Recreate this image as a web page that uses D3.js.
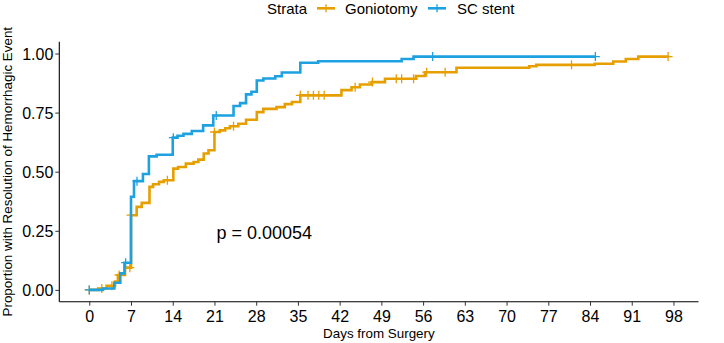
<!DOCTYPE html>
<html>
<head>
<meta charset="utf-8">
<script src="https://cdn.jsdelivr.net/npm/d3@7"></script>
<style>
  html, body { margin: 0; padding: 0; background: #fff; }
  svg { display: block; font-family: "Liberation Sans", Arial, sans-serif; }
</style>
</head>
<body>
<svg id="chart" width="724" height="343"></svg>
<script>
// ---------- data ----------
const strata = ["Goniotomy", "SC stent"];
const colors = ["#E69F00", "#1DA1E0"];

// Goniotomy: event times (days) and cumulative proportion after each step
const goniotomyTime = [0, 1.5, 2.9, 4.3, 4.8, 6.0, 7.0, 7.95, 8.8, 10.1, 10.7, 11.7, 12.5, 14.1, 14.9, 16.2, 17.5, 18.3, 19.2, 20.0, 21.0, 21.9, 22.8, 23.6, 25.0, 26.3, 28.1, 29.2, 31.4, 32.8, 34.0, 35.4, 42.3, 44.0, 45.4, 47.4, 49.6, 54.8, 56.3, 61.6, 73.8, 75.0, 84.8, 87.9, 90.0, 92.1];
const goniotomyValue = [0, 0.006, 0.017, 0.035, 0.063, 0.094, 0.316, 0.351, 0.368, 0.436, 0.447, 0.457, 0.464, 0.513, 0.52, 0.534, 0.541, 0.551, 0.577, 0.591, 0.668, 0.675, 0.684, 0.692, 0.703, 0.72, 0.752, 0.766, 0.773, 0.786, 0.795, 0.823, 0.845, 0.857, 0.869, 0.879, 0.893, 0.905, 0.921, 0.94, 0.946, 0.952, 0.957, 0.966, 0.977, 0.987];
const goniotomyEnd = 97.1;
const goniotomyCensor = [0, 2.1, 3.8, 5.0, 6.8, 7.0, 13.1, 21.0, 24.2, 35.4, 36.7, 37.6, 38.5, 39.4, 44.6, 47.5, 51.5, 52.4, 54.4, 56.6, 59.7, 80.9, 97.1];

// SC stent
const stentTime = [0, 2.3, 4.2, 5.2, 5.9, 7.0, 7.5, 9.0, 10.0, 11.3, 14.0, 14.8, 15.8, 17.2, 19.1, 20.8, 24.2, 25.3, 26.3, 27.2, 28.1, 29.2, 31.2, 32.3, 35.4, 38.4, 52.4, 54.4];
const stentValue = [0, 0.006, 0.03, 0.07, 0.115, 0.394, 0.46, 0.49, 0.565, 0.572, 0.644, 0.652, 0.66, 0.672, 0.696, 0.738, 0.778, 0.79, 0.827, 0.838, 0.886, 0.894, 0.904, 0.92, 0.961, 0.967, 0.977, 0.987];
const stentEnd = 84.9;
const stentCensor = [0, 6.1, 8.0, 14.1, 21.3, 57.6, 84.9];

const xTicks = [0, 7, 14, 21, 28, 35, 42, 49, 56, 63, 70, 77, 84, 91, 98];
const yTicks = [0, 0.25, 0.5, 0.75, 1.0];
const pValueText = "p = 0.00054";
const xTitle = "Days from Surgery";
const yTitle = "Proportion with Resolution of Hemorrhagic Event";
const legendTitle = "Strata";

// ---------- layout ----------
const svg = d3.select("#chart");
const panel = { left: 59.3, right: 698.5, top: 41.7, bottom: 301.7 };

const x = d3.scaleLinear().domain([-5.03, 102.2]).range([panel.left, panel.right]);
const y = d3.scaleLinear().domain([-0.05, 1.05]).range([panel.bottom, panel.top]);

// ---------- axes ----------
const xAxis = d3.axisBottom(x).tickValues(xTicks).tickSize(4).tickPadding(4).tickFormat(d3.format("d"));
const gx = svg.append("g").attr("transform", `translate(0,${panel.bottom})`).call(xAxis);
gx.select(".domain").attr("stroke", "#000").attr("stroke-width", 1.1).attr("d", `M${panel.left},0H${panel.right}`);
gx.selectAll(".tick line").attr("stroke", "#333").attr("stroke-width", 1);
gx.selectAll(".tick text").attr("font-size", 16).attr("fill", "#000").attr("dy", null).attr("y", 20.3);

const yAxis = d3.axisLeft(y).tickValues(yTicks).tickSize(4).tickPadding(2).tickFormat(d3.format(".2f"));
const gy = svg.append("g").attr("transform", `translate(${panel.left},0)`).call(yAxis);
gy.select(".domain").attr("stroke", "#000").attr("stroke-width", 1.1).attr("d", `M0,${panel.top}V${panel.bottom}`);
gy.selectAll(".tick line").attr("stroke", "#333").attr("stroke-width", 1);
gy.selectAll(".tick text").attr("font-size", 16).attr("fill", "#000").attr("dy", "0.36em").attr("x", -6);

// axis titles
svg.append("text").attr("x", (panel.left + panel.right) / 2).attr("y", 337.5)
  .attr("text-anchor", "middle").attr("font-size", 13.4).attr("fill", "#000").text(xTitle);
svg.append("text").attr("transform", `translate(12.3,${(panel.top + panel.bottom) / 2}) rotate(-90)`)
  .attr("text-anchor", "middle").attr("font-size", 13.4).attr("fill", "#000").text(yTitle);

// ---------- curves ----------
const series = [
  { name: strata[0], color: colors[0], t: goniotomyTime, v: goniotomyValue, end: goniotomyEnd, censor: goniotomyCensor },
  { name: strata[1], color: colors[1], t: stentTime, v: stentValue, end: stentEnd, censor: stentCensor }
];

const stepLine = d3.line().x(d => x(d[0])).y(d => y(d[1])).curve(d3.curveStepAfter);

function valueAt(s, time) {
  let val = s.v[0];
  for (let i = 0; i < s.t.length; i++) { if (s.t[i] <= time + 1e-9) val = s.v[i]; }
  return val;
}

series.forEach(s => {
  const pts = s.t.map((t, i) => [t, s.v[i]]);
  pts.push([s.end, s.v[s.v.length - 1]]);
  svg.append("path").datum(pts).attr("d", stepLine)
    .attr("fill", "none").attr("stroke", s.color).attr("stroke-width", 2.6)
    .attr("stroke-linejoin", "miter").attr("stroke-linecap", "butt");
  const g = svg.append("g");
  s.censor.forEach(c => {
    const cx = x(c), cy = y(valueAt(s, c));
    g.append("path").attr("d", `M${cx - 4.5},${cy}H${cx + 4.5}M${cx},${cy - 4.5}V${cy + 4.5}`)
      .attr("stroke", s.color).attr("stroke-width", 1.3).attr("fill", "none");
  });
});

// p-value
svg.append("text").attr("x", 216.5).attr("y", 238.5).attr("font-size", 18).attr("fill", "#000").text(pValueText);

// ---------- legend ----------
const leg = svg.append("g");
const legBase = 13.8, keyY = 8.3;
leg.append("text").attr("x", 267).attr("y", legBase).attr("font-size", 15).attr("fill", "#000").text(legendTitle);
const keyX = [317, 428];
const labX = [345, 457];
series.forEach((s, i) => {
  leg.append("path").attr("d", `M${keyX[i]},${keyY}H${keyX[i] + 18}`).attr("stroke", s.color).attr("stroke-width", 2.6);
  leg.append("path").attr("d", `M${keyX[i] + 9},${keyY - 4}V${keyY + 4}`).attr("stroke", s.color).attr("stroke-width", 1.3);
  leg.append("text").attr("x", labX[i]).attr("y", legBase).attr("font-size", 15).attr("fill", "#000").text(s.name);
});
</script>
</body>
</html>
